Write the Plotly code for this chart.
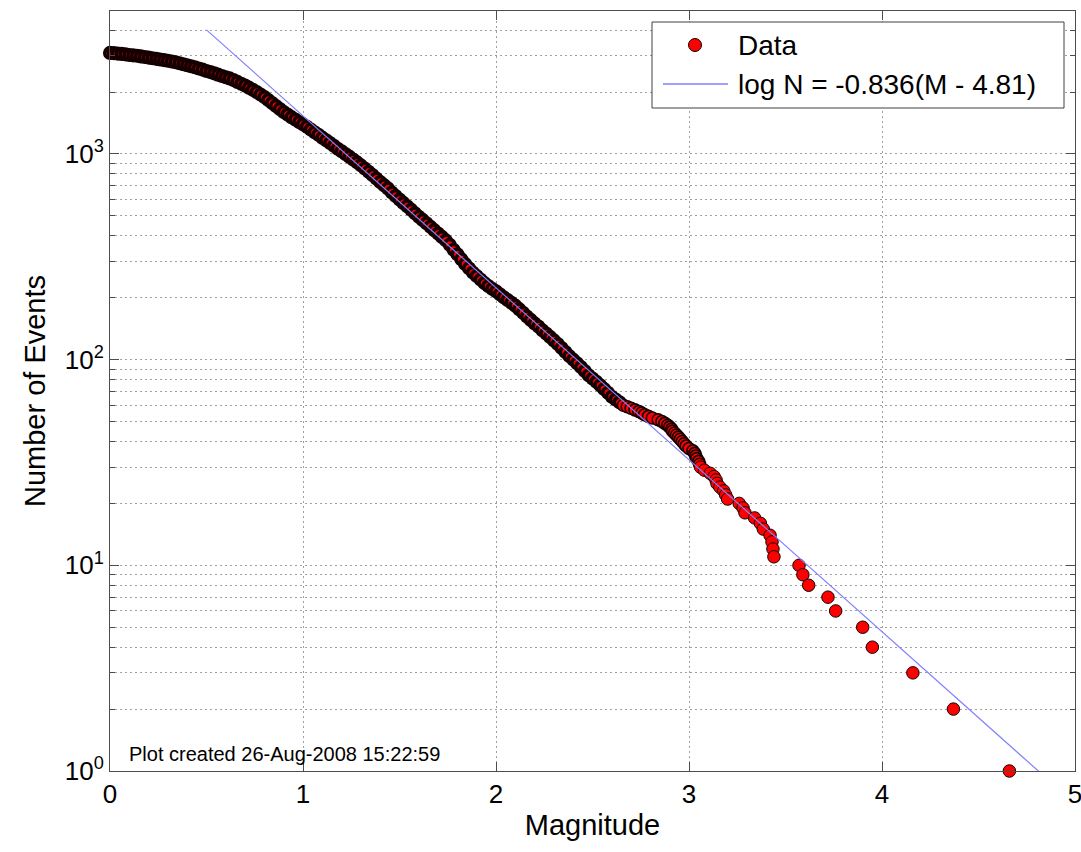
import plotly.graph_objects as go

# Cumulative frequency-magnitude distribution (number of events with magnitude >= M)
mag_dense = [
    0.00, 0.02, 0.04, 0.06, 0.08, 0.10, 0.12, 0.14, 0.16, 0.18,
    0.20, 0.22, 0.24, 0.26, 0.28, 0.30, 0.32, 0.34, 0.36, 0.38,
    0.40, 0.42, 0.44, 0.46, 0.48, 0.50, 0.52, 0.54, 0.56, 0.58,
    0.60, 0.62, 0.64, 0.66, 0.68, 0.70, 0.72, 0.74, 0.76, 0.78,
    0.80, 0.82, 0.84, 0.86, 0.88, 0.90, 0.92, 0.94, 0.96, 0.98,
    1.00, 1.02, 1.04, 1.06, 1.08, 1.10, 1.12, 1.14, 1.16, 1.18,
    1.20, 1.22, 1.24, 1.26, 1.28, 1.30, 1.32, 1.34, 1.36, 1.38,
    1.40, 1.42, 1.44, 1.46, 1.48, 1.50, 1.52, 1.54, 1.56, 1.58,
    1.60, 1.62, 1.64, 1.66, 1.68, 1.70, 1.72, 1.74, 1.76, 1.78,
    1.80, 1.82, 1.84, 1.86, 1.88, 1.90, 1.92, 1.94, 1.96, 1.98,
    2.00, 2.02, 2.04, 2.06, 2.08, 2.10, 2.12, 2.14, 2.16, 2.18,
    2.20, 2.22, 2.24, 2.26, 2.28, 2.30, 2.32, 2.34, 2.36, 2.38,
    2.40, 2.42, 2.44, 2.46, 2.48, 2.50, 2.52, 2.54, 2.56, 2.58,
    2.60, 2.62, 2.64,
]
count_dense = [
    3100, 3090, 3075, 3065, 3050, 3030, 3015, 3000, 2980, 2960,
    2940, 2920, 2900, 2880, 2860, 2840, 2815, 2790, 2760, 2730,
    2700, 2670, 2640, 2605, 2570, 2530, 2500, 2465, 2430, 2395,
    2360, 2330, 2290, 2240, 2195, 2150, 2100, 2050, 2000, 1945,
    1890, 1830, 1770, 1710, 1655, 1600, 1555, 1510, 1470, 1430,
    1395, 1355, 1315, 1275, 1240, 1200, 1165, 1130, 1095, 1060,
    1030, 1000, 970, 940, 910, 880, 850, 820, 790, 760,
    730, 705, 680, 650, 625, 600, 578, 557, 536, 515,
    495, 478, 460, 443, 426, 410, 395, 380, 362, 342,
    325, 308, 292, 278, 265, 255, 245, 236, 228, 221,
    215, 208, 201, 195, 189, 183, 176, 169, 162, 156,
    150, 145, 139, 134, 129, 124, 119, 114, 109, 104,
    100, 96, 92, 88, 84, 81, 78, 75, 72, 69,
    66, 64, 62,
]
mag_tail = [
    2.66, 2.68, 2.70, 2.72, 2.74, 2.755, 2.77, 2.79, 2.81, 2.84,
    2.86, 2.875, 2.89, 2.90, 2.91, 2.915, 2.925, 2.935, 2.945, 2.955,
    2.965, 2.975, 2.985, 3.00, 3.02, 3.03, 3.035, 3.04, 3.05, 3.055,
    3.06, 3.08, 3.11, 3.13, 3.14, 3.145, 3.16, 3.18, 3.19, 3.20,
    3.26, 3.28, 3.29, 3.34, 3.37, 3.385, 3.42, 3.43, 3.435, 3.44,
    3.57, 3.59, 3.62, 3.72, 3.76, 3.90, 3.95, 4.16, 4.37, 4.66,
]
count_tail = [
    60, 59, 58, 57, 56, 55, 54, 53, 52, 51,
    50, 49, 48, 47, 46, 45, 44, 43, 42, 41,
    40, 39, 38, 37, 36, 35, 34, 33, 32, 31,
    30, 29, 28, 27, 26, 25, 24, 23, 22, 21,
    20, 19, 18, 17, 16, 15, 14, 13, 12, 11,
    10, 9, 8, 7, 6, 5, 4, 3, 2, 1,
]

# Gutenberg-Richter fit: log N = -b (M - Mc)
b_value = 0.836
mag_intercept = 4.81
fit_range = [0.5, 4.81]

x_ticks = [0, 1, 2, 3, 4, 5]
y_major = [1, 10, 100, 1000]
y_major_text = ["10<sup>0</sup>", "10<sup>1</sup>", "10<sup>2</sup>", "10<sup>3</sup>"]
y_minor = [m * 10 ** k for k in range(4) for m in range(2, 10) if m * 10 ** k < 5000]

stamp = "Plot created 26-Aug-2008 15:22:59"

W, H = 1081, 852
ML, MR, MT, MB = 110, 6, 11, 81
FONT = "Liberation Sans, Arial, Helvetica, sans-serif"
MARK_RED = "#ff0000"
MARK_EDGE = "#140000"
FIT_BLUE = "#8080ff"
GRID = "#a0a0a0"
GRID_DASH = "1.5px,3.5px"


def px_x(p):
    return (p - ML) / (W - ML - MR)


def px_y(p):
    return (H - MB - p) / (H - MT - MB)


mags = mag_dense + mag_tail
counts = count_dense + count_tail
# heavier outlines where the markers pile up into a continuous band
n_dense, n_mid = len(mag_dense), 30
n_sparse = len(mag_tail) - n_mid
edge_widths = [3.6] * n_dense + [1.6] * n_mid + [1.0] * n_sparse
marker_sizes = [10.5] * n_dense + [12] * n_mid + [12.5] * n_sparse
fit_n = [10 ** (-b_value * (m - mag_intercept)) for m in fit_range]

fig = go.Figure()
fig.add_trace(go.Scatter(
    x=mags, y=counts, mode="markers", name="Data",
    marker=dict(size=marker_sizes, color=MARK_RED, opacity=1,
                line=dict(color=MARK_EDGE, width=edge_widths)),
    cliponaxis=False, showlegend=False,
))
fig.add_trace(go.Scatter(
    x=fit_range, y=fit_n, mode="lines",
    name=f"log N = -{b_value:.3f}(M - {mag_intercept:.2f})",
    line=dict(color=FIT_BLUE, width=1.2), showlegend=False,
))

axis_common = dict(
    showline=True, linecolor="#4d4d4d", linewidth=1, mirror="ticks",
    ticks="inside", tickcolor="#4d4d4d", automargin=False,
    showgrid=True, gridcolor=GRID, griddash=GRID_DASH, gridwidth=1,
    zeroline=False, tickfont=dict(family=FONT, size=26, color="black"),
    ticklabeloverflow="allow",
)

fig.update_xaxes(
    range=[0, 5], tickvals=x_ticks, ticklen=9,
    title=dict(text="Magnitude", font=dict(family=FONT, size=29, color="black"), standoff=6),
    **axis_common,
)
fig.update_yaxes(
    type="log", range=[0, 3.695], tickvals=y_major, ticktext=y_major_text, ticklen=9,
    minor=dict(tickvals=y_minor, ticks="inside", ticklen=5, tickcolor="#4d4d4d",
               showgrid=True, gridcolor=GRID, griddash=GRID_DASH, gridwidth=1),
    title=dict(text="Number of Events", font=dict(family=FONT, size=29, color="black"), standoff=10),
    **axis_common,
)

# Legend box drawn in the upper-right corner of the axes
shapes = [
    dict(type="rect", xref="paper", yref="paper",
         x0=px_x(652), x1=px_x(1064), y0=px_y(108), y1=px_y(22),
         line=dict(color="#404040", width=1), fillcolor="white", layer="above"),
    dict(type="circle", xref="paper", yref="paper",
         xsizemode="pixel", ysizemode="pixel",
         xanchor=px_x(695), yanchor=px_y(45), x0=-6.5, x1=6.5, y0=-6.5, y1=6.5,
         line=dict(color=MARK_EDGE, width=1), fillcolor=MARK_RED, layer="above"),
    dict(type="line", xref="paper", yref="paper",
         x0=px_x(663), x1=px_x(728), y0=px_y(84), y1=px_y(84),
         line=dict(color=FIT_BLUE, width=1.5), layer="above"),
]
annotations = [
    dict(text="Data", xref="paper", yref="paper", x=px_x(736), y=px_y(45),
         xanchor="left", yanchor="middle", showarrow=False,
         font=dict(family=FONT, size=28, color="black")),
    dict(text=f"log N = -{b_value:.3f}(M - {mag_intercept:.2f})", xref="paper", yref="paper",
         x=px_x(736), y=px_y(85), xanchor="left", yanchor="middle", showarrow=False,
         font=dict(family=FONT, size=28, color="black")),
    dict(text=stamp, xref="paper", yref="paper", x=px_x(127), y=px_y(754),
         xanchor="left", yanchor="middle", showarrow=False,
         font=dict(family=FONT, size=20, color="black")),
]

fig.update_layout(
    width=W, height=H,
    margin=dict(l=ML, r=MR, t=MT, b=MB, pad=0),
    paper_bgcolor="white", plot_bgcolor="white",
    shapes=shapes, annotations=annotations,
    showlegend=False,
)

fig.write_html("out.html")
